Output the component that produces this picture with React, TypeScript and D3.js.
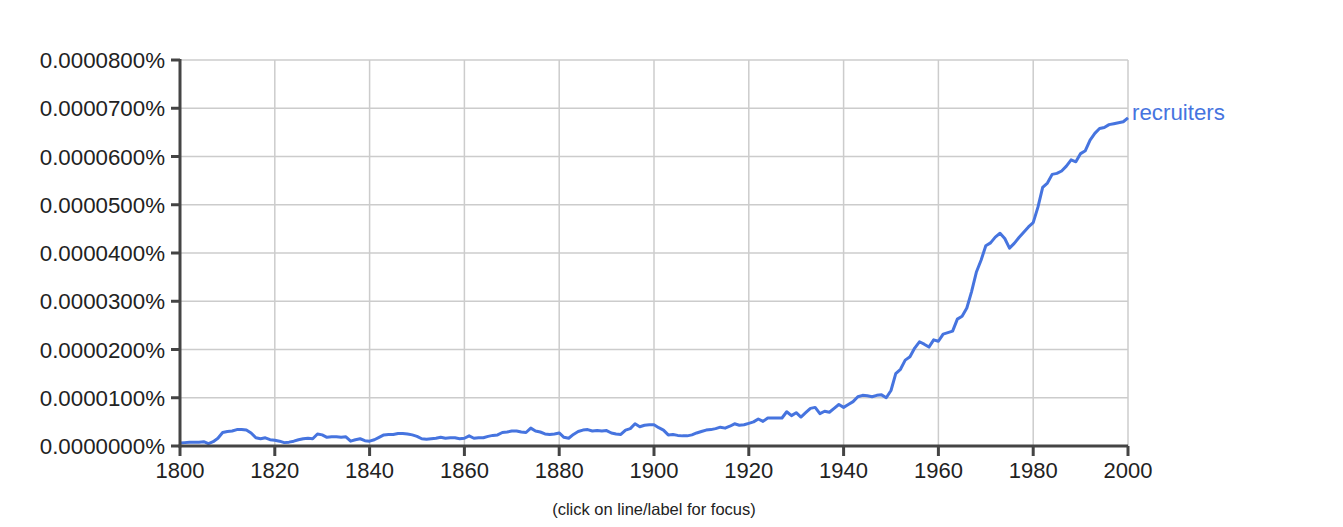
import React from "react";
import * as d3 from "d3";

// Frequency of "recruiters", in units of 1e-6 percent, one value per year 1800-2000
const startYear = 1800;
const values: number[] = [
  // 1800-1819
  0.6, 0.7, 0.8, 0.8, 0.8, 0.9, 0.5, 0.9, 1.6, 2.8, 3.0, 3.1, 3.4, 3.4, 3.3, 2.7, 1.7, 1.5, 1.7, 1.3,
  // 1820-1839
  1.2, 1.0, 0.7, 0.8, 1.0, 1.3, 1.5, 1.6, 1.5, 2.5, 2.3, 1.8, 1.9, 1.9, 1.8, 1.9, 1.0, 1.3, 1.5, 1.1,
  // 1840-1859
  1.0, 1.3, 1.8, 2.3, 2.4, 2.4, 2.6, 2.6, 2.5, 2.3, 2.0, 1.5, 1.4, 1.5, 1.6, 1.8, 1.6, 1.7, 1.7, 1.5,
  // 1860-1879
  1.6, 2.1, 1.6, 1.7, 1.7, 2.0, 2.2, 2.3, 2.8, 2.9, 3.1, 3.1, 2.9, 2.8, 3.7, 3.1, 2.9, 2.5, 2.4, 2.5,
  // 1880-1899
  2.7, 1.8, 1.6, 2.4, 3.0, 3.3, 3.4, 3.1, 3.2, 3.1, 3.2, 2.7, 2.5, 2.4, 3.3, 3.6, 4.6, 4.0, 4.3, 4.4,
  // 1900-1919
  4.4, 3.8, 3.3, 2.3, 2.4, 2.2, 2.1, 2.1, 2.3, 2.7, 3.0, 3.3, 3.4, 3.6, 3.9, 3.7, 4.1, 4.6, 4.3, 4.4,
  // 1920-1939
  4.7, 5.0, 5.6, 5.1, 5.8, 5.8, 5.8, 5.8, 7.1, 6.3, 6.9, 6.0, 6.9, 7.8, 8.0, 6.7, 7.2, 7.0, 7.8, 8.6,
  // 1940-1959
  8.0, 8.6, 9.2, 10.2, 10.5, 10.4, 10.2, 10.5, 10.6, 10.0, 11.5, 15.0, 15.9, 17.8, 18.5, 20.3, 21.6, 21.1, 20.5, 22.0,
  // 1960-1979
  21.7, 23.2, 23.5, 23.8, 26.3, 26.9, 28.6, 32.0, 36.0, 38.5, 41.5, 42.1, 43.3, 44.1, 43.0, 41.0, 42.0, 43.2, 44.3, 45.4,
  // 1980-2000
  46.3, 49.5, 53.6, 54.5, 56.3, 56.5, 57.0, 58.0, 59.3, 58.9, 60.6, 61.2, 63.4, 64.8, 65.8, 66.0, 66.6, 66.8, 67.0, 67.2, 68.0,
];

const seriesName = "recruiters";
const yTicks = [0, 10, 20, 30, 40, 50, 60, 70, 80];
const xTicks = [1800, 1820, 1840, 1860, 1880, 1900, 1920, 1940, 1960, 1980, 2000];
const footnote = "(click on line/label for focus)";

const W = 1343;
const H = 527;
const margin = { left: 180, right: 215, top: 60, bottom: 81 };
const lineColor = "#4674df";
const font = "'Liberation Sans', Arial, Helvetica, sans-serif";

export default function App() {
  const x = d3
    .scaleLinear()
    .domain([1800, 2000])
    .range([margin.left, W - margin.right]);
  const y = d3
    .scaleLinear()
    .domain([0, 80])
    .range([H - margin.bottom, margin.top]);

  const data = values.map((v, i) => ({ year: startYear + i, v }));
  const line = d3
    .line<{ year: number; v: number }>()
    .x((d) => x(d.year))
    .y((d) => y(d.v));

  const fmt = (t: number) => (t * 1e-6).toFixed(7) + "%";
  const last = data[data.length - 1];
  const [x0, x1] = x.range();
  const [y0, y1] = y.range();

  return (
    <svg
      width={W}
      height={H}
      style={{ position: "absolute", left: 0, top: 0, background: "#fff" }}
      fontFamily={font}
    >
      {/* grid */}
      {yTicks.map((t) => (
        <line key={"gy" + t} x1={x0} x2={x1} y1={y(t)} y2={y(t)} stroke="#cccccc" strokeWidth={1.5} />
      ))}
      {xTicks.map((t) => (
        <line key={"gx" + t} x1={x(t)} x2={x(t)} y1={y1} y2={y0} stroke="#cccccc" strokeWidth={1.5} />
      ))}

      {/* series */}
      <path d={line(data) || ""} fill="none" stroke={lineColor} strokeWidth={3} strokeLinejoin="round" />
      <text x={x(last.year) + 4} y={y(last.v) + 2} fill={lineColor} fontSize={22.3}>
        {seriesName}
      </text>

      {/* axes */}
      <line x1={x0} x2={x0} y1={y1 - 1} y2={y0 + 1.5} stroke="#444" strokeWidth={3} />
      <line x1={x0 - 1.5} x2={x1} y1={y0} y2={y0} stroke="#444" strokeWidth={3} />
      {yTicks.map((t) => (
        <g key={"ty" + t}>
          <line x1={x0 - 9} x2={x0} y1={y(t)} y2={y(t)} stroke="#444" strokeWidth={3} />
          <text x={x0 - 15} y={y(t)} dy="0.36em" textAnchor="end" fontSize={22.3} fill="#222">
            {fmt(t)}
          </text>
        </g>
      ))}
      {xTicks.map((t) => (
        <g key={"tx" + t}>
          <line x1={x(t)} x2={x(t)} y1={y0} y2={y0 + 10} stroke="#444" strokeWidth={3} />
          <text x={x(t)} y={y0 + 32} textAnchor="middle" fontSize={22} fill="#222">
            {t}
          </text>
        </g>
      ))}

      <text x={(x0 + x1) / 2} y={H - 12} textAnchor="middle" fontSize={16.5} fill="#222">
        {footnote}
      </text>
    </svg>
  );
}
